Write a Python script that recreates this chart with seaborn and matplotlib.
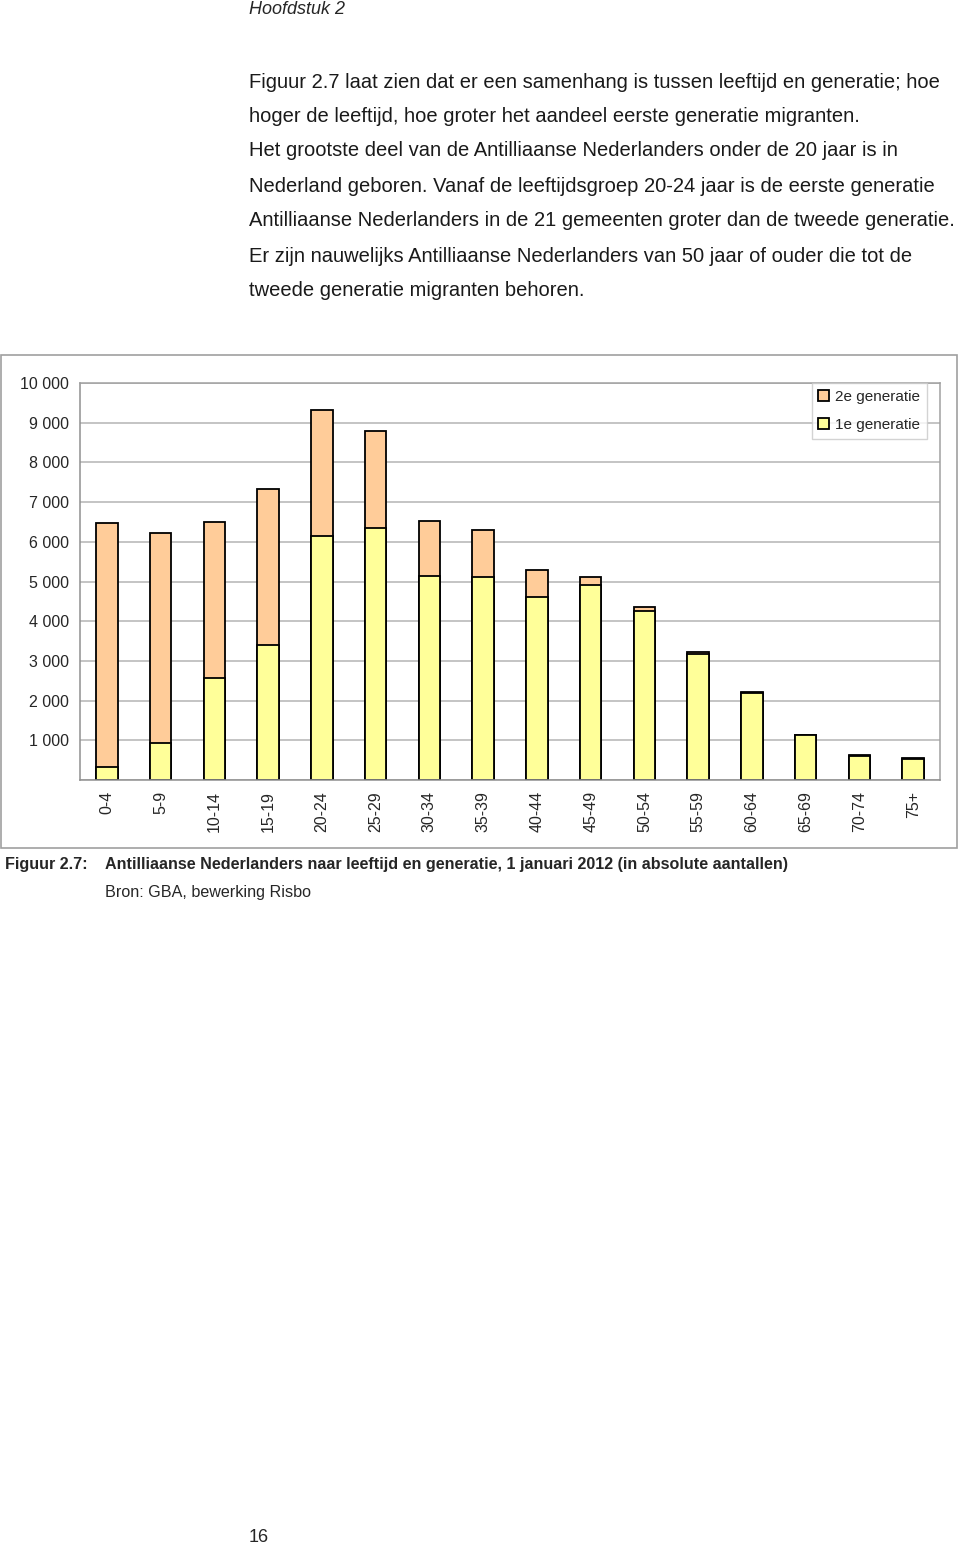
import numpy as np
import pandas as pd
import matplotlib
matplotlib.use("Agg")
import matplotlib.pyplot as plt
import matplotlib.ticker as ticker
from matplotlib.patches import Rectangle
import seaborn as sns

sns.set_theme(style="white")
plt.rcParams["font.family"] = ["Liberation Sans", "DejaVu Sans"]

# age groups and counts
age_groups = ["0-4", "5-9", "10-14", "15-19", "20-24", "25-29", "30-34", "35-39",
              "40-44", "45-49", "50-54", "55-59", "60-64", "65-69", "70-74", "75+"]
first_gen = [320, 925, 2565, 3405, 6145, 6360, 5150, 5110,
             4605, 4900, 4260, 3185, 2195, 1130, 600, 530]
second_gen = [6150, 5300, 3940, 3915, 3165, 2420, 1385, 1185,
              690, 225, 110, 50, 10, 5, 35, 30]
y_ticks = [1000, 2000, 3000, 4000, 5000, 6000, 7000, 8000, 9000, 10000]

df = pd.DataFrame({"leeftijd": age_groups, "1e": first_gen, "2e": second_gen})
df["totaal"] = df["1e"] + df["2e"]

W, H = 960, 1547
fig = plt.figure(figsize=(W / 100, H / 100), dpi=100)
fig.patch.set_facecolor("white")

def fx(px):
    return px / W

def fy(py):
    return 1 - py / H

# page text
fig.text(fx(249), fy(9), "Hoofdstuk 2", fontsize=13, style="italic",
         ha="left", va="center")
paragraph = [
    "Figuur 2.7 laat zien dat er een samenhang is tussen leeftijd en generatie; hoe",
    "hoger de leeftijd, hoe groter het aandeel eerste generatie migranten.",
    "Het grootste deel van de Antilliaanse Nederlanders onder de 20 jaar is in",
    "Nederland geboren. Vanaf de leeftijdsgroep 20-24 jaar is de eerste generatie",
    "Antilliaanse Nederlanders in de 21 gemeenten groter dan de tweede generatie.",
    "Er zijn nauwelijks Antilliaanse Nederlanders van 50 jaar of ouder die tot de",
    "tweede generatie migranten behoren.",
]
line_y = [82, 116, 151, 186, 220, 256, 291]
for txt, yy in zip(paragraph, line_y):
    fig.text(fx(249), fy(yy), txt, fontsize=14.5, ha="left", va="center", color="#1a1a1a")

# chart frame
fig.patches.append(Rectangle((fx(1), fy(848)), fx(956), (848 - 355) / H,
                             transform=fig.transFigure, fill=False,
                             edgecolor="#a0a0a0", linewidth=1.2))

ax = fig.add_axes([fx(80), fy(780), fx(860), (780 - 383) / H])

sns.barplot(data=df, x="leeftijd", y="totaal", color="#FFCC99", saturation=1,
            width=0.4, edgecolor="black", linewidth=1.3, ax=ax, label="2e generatie")
sns.barplot(data=df, x="leeftijd", y="1e", color="#FFFF99", saturation=1,
            width=0.4, edgecolor="black", linewidth=1.3, ax=ax, label="1e generatie")

ax.set_ylim(0, 10000)
ax.set_xlim(-0.5, len(age_groups) - 0.5)
ax.set_yticks([0] + y_ticks)
ax.set_yticklabels([""] + [f"{v:,}".replace(",", " ") for v in y_ticks], fontsize=11.5)
ax.yaxis.grid(True, color="#b4b4b4", linewidth=1.1)
ax.set_axisbelow(True)
ax.set_xlabel("")
ax.set_ylabel("")
ax.set_xticks(range(len(age_groups)))
ax.set_xticklabels(age_groups, rotation=90, fontsize=11.5)
ax.xaxis.set_minor_locator(ticker.FixedLocator(np.arange(-0.5, len(age_groups), 1)))
ax.tick_params(axis="x", which="major", length=0, pad=8)
ax.tick_params(axis="x", which="minor", length=4, color="#909090", width=1, direction="out")
ax.tick_params(axis="y", which="major", length=4, color="#909090", width=1, direction="out", pad=4)
for side in ["top", "right"]:
    ax.spines[side].set_color("#a0a0a0")
    ax.spines[side].set_linewidth(1.1)
for side in ["left", "bottom"]:
    ax.spines[side].set_color("#909090")
    ax.spines[side].set_linewidth(1.1)

handles, labels = ax.get_legend_handles_labels()
leg = ax.legend(handles, labels, loc="upper right", bbox_to_anchor=(0.985, 1.0),
                fontsize=11, frameon=True, fancybox=False, edgecolor="#c8c8c8",
                handlelength=0.7, handleheight=0.7, handletextpad=0.4,
                borderpad=0.45, labelspacing=0.9, borderaxespad=0)
leg.get_frame().set_linewidth(1)

# caption
fig.text(fx(5), fy(864), "Figuur 2.7:", fontsize=11.6, fontweight="bold", ha="left", va="center")
fig.text(fx(105), fy(864),
         "Antilliaanse Nederlanders naar leeftijd en generatie, 1 januari 2012 (in absolute aantallen)",
         fontsize=11.6, fontweight="bold", ha="left", va="center")
fig.text(fx(105), fy(893), "Bron: GBA, bewerking Risbo", fontsize=11.6, ha="left", va="center")
fig.text(fx(249), fy(1537), "16", fontsize=13, ha="left", va="center")

fig.savefig("out.png", dpi=100, facecolor="white")
